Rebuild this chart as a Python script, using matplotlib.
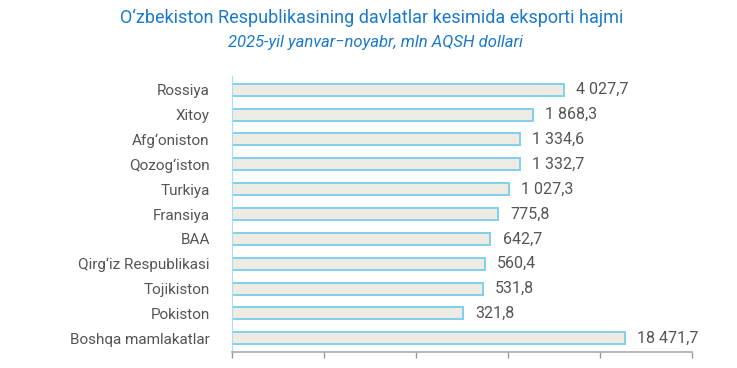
import matplotlib.pyplot as plt
import numpy as np

plt.rcParams['font.family'] = ['Roboto', 'DejaVu Sans']

countries = ["Rossiya", "Xitoy", "Afg\u2018oniston", "Qozog\u2018iston", "Turkiya", "Fransiya",
             "BAA", "Qirg\u2018iz Respublikasi", "Tojikiston", "Pokiston", "Boshqa mamlakatlar"]
values = [4027.7, 1868.3, 1334.6, 1332.7, 1027.3, 775.8, 642.7, 560.4, 531.8, 321.8, 18471.7]
labels = ["4 027,7", "1 868,3", "1 334,6", "1 332,7", "1 027,3", "775,8",
          "642,7", "560,4", "531,8", "321,8", "18 471,7"]

fig = plt.figure(figsize=(7.37, 3.68), dpi=100)
ax = fig.add_axes([232/737, 1 - 352/368, (692 - 232)/737, (352 - 76)/368])

y = np.arange(len(countries))
ax.barh(y, values, left=1, height=0.48, color='#eeebe2', edgecolor='#7fd0ee', linewidth=1.4)
ax.set_xscale('log')
ax.set_xlim(1, 1e5)
ax.set_ylim(len(countries) - 0.5 + 0.05, -0.5 - 0.05)

for yi, v, lab in zip(y, values, labels):
    ax.text(v * 1.36, yi, lab, va='center', ha='left', fontsize=11.5, color='#555555')

ax.set_yticks(y)
ax.set_yticklabels(countries, fontsize=11, color='#555555')
ax.tick_params(axis='y', length=0, pad=16)
ax.set_xticks([1, 10, 100, 1000, 1e4, 1e5])
ax.set_xticklabels([])
ax.xaxis.set_minor_locator(plt.NullLocator())
ax.tick_params(axis='x', length=4, color='#999999', width=1)

for s in ['top', 'right']:
    ax.spines[s].set_visible(False)
ax.spines['left'].set_color('#a9dcef')
ax.spines['bottom'].set_color('#aaaaaa')
ax.spines['bottom'].set_linewidth(1.2)

fig.text(372/737, 1 - 18/368, "O\u2018zbekiston Respublikasining davlatlar kesimida eksporti hajmi",
         ha='center', va='center', fontsize=13, color='#1a7ac9')
fig.text(375/737, 1 - 43/368, "2025-yil yanvar\u2212noyabr, mln AQSH dollari",
         ha='center', va='center', fontsize=12, color='#1a7ac9', style='italic')

fig.savefig('out.png', dpi=100)
